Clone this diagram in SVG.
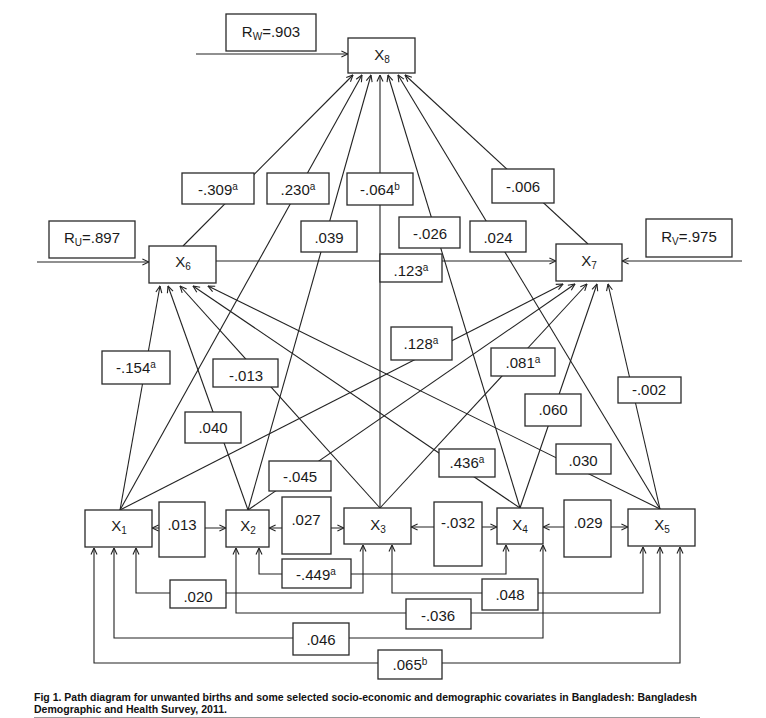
<svg xmlns="http://www.w3.org/2000/svg" width="766" height="718" viewBox="0 0 766 718">
<style>
  .bg{fill:#ffffff}
  .box{fill:#ffffff;stroke:#2a2a2a;stroke-width:1.3}
  .ln{fill:none;stroke:#222222;stroke-width:1.1}
  .t{font-family:"Liberation Sans",Arial,sans-serif;font-size:15px;fill:#1a1a1a;text-anchor:middle}
  .s{font-size:10px}
  .cap{font-family:"Liberation Sans",Arial,sans-serif;font-size:10.5px;font-weight:bold;fill:#111111}
</style>
<defs>
  <marker id="ah" viewBox="0 0 8 8" refX="7.6" refY="4" markerWidth="8" markerHeight="8" markerUnits="userSpaceOnUse" orient="auto-start-reverse">
    <path d="M1,1 L7.6,4 L1,7" fill="none" stroke="#222222" stroke-width="1.1"/>
  </marker>
</defs>
<rect class="bg" x="0" y="0" width="766" height="718"/>

<g id="connectors">
  <!-- residual inputs -->
  <path class="ln" d="M196,54 L348,54" marker-end="url(#ah)"/>
  <path class="ln" d="M37,262 L149,262" marker-end="url(#ah)"/>
  <path class="ln" d="M742,261 L622,261" marker-end="url(#ah)"/>
  <!-- X6 to X7 -->
  <path class="ln" d="M216,261 L556,261" marker-end="url(#ah)"/>
  <!-- to X8 -->
  <path class="ln" d="M183,246 L353,75" marker-end="url(#ah)"/>
  <path class="ln" d="M120,510 L362,75" marker-end="url(#ah)"/>
  <path class="ln" d="M248,510 L371,75" marker-end="url(#ah)"/>
  <path class="ln" d="M380,508 L380,75" marker-end="url(#ah)"/>
  <path class="ln" d="M520,508 L388,75" marker-end="url(#ah)"/>
  <path class="ln" d="M660,509 L398,75" marker-end="url(#ah)"/>
  <path class="ln" d="M588,244 L405,75" marker-end="url(#ah)"/>
  <!-- to X6 -->
  <path class="ln" d="M120,510 L160,286" marker-end="url(#ah)"/>
  <path class="ln" d="M248,510 L168,286" marker-end="url(#ah)"/>
  <path class="ln" d="M380,508 L180,286" marker-end="url(#ah)"/>
  <path class="ln" d="M520,508 L193,286" marker-end="url(#ah)"/>
  <path class="ln" d="M660,509 L208,286" marker-end="url(#ah)"/>
  <!-- to X7 -->
  <path class="ln" d="M120,510 L563,284" marker-end="url(#ah)"/>
  <path class="ln" d="M248,510 L575,284" marker-end="url(#ah)"/>
  <path class="ln" d="M380,508 L587,284" marker-end="url(#ah)"/>
  <path class="ln" d="M520,508 L597,284" marker-end="url(#ah)"/>
  <path class="ln" d="M660,509 L608,284" marker-end="url(#ah)"/>
  <!-- adjacent correlations -->
  <path class="ln" d="M152,528 L226,528" marker-start="url(#ah)" marker-end="url(#ah)"/>
  <path class="ln" d="M269,528 L344,528" marker-start="url(#ah)" marker-end="url(#ah)"/>
  <path class="ln" d="M411,527 L497,527" marker-start="url(#ah)" marker-end="url(#ah)"/>
  <path class="ln" d="M543,527 L628,527" marker-start="url(#ah)" marker-end="url(#ah)"/>
  <!-- lower correlations -->
  <path class="ln" d="M94,548 L94,663 L680,663 L680,547" marker-start="url(#ah)" marker-end="url(#ah)"/>
  <path class="ln" d="M114,548 L114,638 L543,638 L543,545" marker-start="url(#ah)" marker-end="url(#ah)"/>
  <path class="ln" d="M136,548 L136,593 L363,593 L363,545" marker-start="url(#ah)" marker-end="url(#ah)"/>
  <path class="ln" d="M236,548 L236,613 L660,613 L660,547" marker-start="url(#ah)" marker-end="url(#ah)"/>
  <path class="ln" d="M259,548 L259,574 L506,574 L506,545" marker-start="url(#ah)" marker-end="url(#ah)"/>
  <path class="ln" d="M392,545 L392,593 L643,593 L643,547" marker-start="url(#ah)" marker-end="url(#ah)"/>
</g>

<g id="edge-labels">
  <g id="l-309"><rect class="box" x="182" y="173" width="72" height="31"/><text class="t" x="218" y="195">-.309<tspan class="s" dy="-5">a</tspan></text></g>
  <g id="l230"><rect class="box" x="267" y="173" width="62" height="31"/><text class="t" x="298" y="195">.230<tspan class="s" dy="-5">a</tspan></text></g>
  <g id="l-064"><rect class="box" x="347" y="173" width="66" height="32"/><text class="t" x="380" y="195">-.064<tspan class="s" dy="-5">b</tspan></text></g>
  <g id="l-006"><rect class="box" x="492" y="169" width="62" height="34"/><text class="t" x="523" y="192">-.006</text></g>
  <g id="l039"><rect class="box" x="301" y="221" width="56" height="31"/><text class="t" x="329" y="243">.039</text></g>
  <g id="l-026"><rect class="box" x="399" y="217" width="61" height="31"/><text class="t" x="430" y="239">-.026</text></g>
  <g id="l024"><rect class="box" x="470" y="221" width="56" height="31"/><text class="t" x="498" y="243">.024</text></g>
  <g id="l123"><rect class="box" x="380" y="254" width="62" height="28"/><text class="t" x="411" y="276">.123<tspan class="s" dy="-5">a</tspan></text></g>
  <g id="l-154"><rect class="box" x="102" y="351" width="68" height="33"/><text class="t" x="136" y="373">-.154<tspan class="s" dy="-5">a</tspan></text></g>
  <g id="l-013"><rect class="box" x="213" y="359" width="65" height="28"/><text class="t" x="246" y="381">-.013</text></g>
  <g id="l040"><rect class="box" x="185" y="412" width="56" height="31"/><text class="t" x="213" y="433">.040</text></g>
  <g id="l128"><rect class="box" x="391" y="327" width="61" height="33"/><text class="t" x="421" y="349">.128<tspan class="s" dy="-5">a</tspan></text></g>
  <g id="l081"><rect class="box" x="491" y="348" width="64" height="28"/><text class="t" x="523" y="368">.081<tspan class="s" dy="-5">a</tspan></text></g>
  <g id="l060"><rect class="box" x="525" y="394" width="56" height="32"/><text class="t" x="553" y="415">.060</text></g>
  <g id="l-002"><rect class="box" x="618" y="377" width="63" height="26"/><text class="t" x="649" y="395">-.002</text></g>
  <g id="l030"><rect class="box" x="556" y="444" width="55" height="30"/><text class="t" x="583" y="466">.030</text></g>
  <g id="l436"><rect class="box" x="439" y="449" width="56" height="28"/><text class="t" x="467" y="468">.436<tspan class="s" dy="-5">a</tspan></text></g>
  <g id="l-045"><rect class="box" x="269" y="461" width="62" height="30"/><text class="t" x="300" y="482">-.045</text></g>
  <g id="l013"><rect class="box" x="159" y="502" width="46" height="55"/><text class="t" x="182" y="530">.013</text></g>
  <g id="l027"><rect class="box" x="282" y="497" width="49" height="57"/><text class="t" x="306" y="525">.027</text></g>
  <g id="l-032"><rect class="box" x="434" y="502" width="48" height="64"/><text class="t" x="458" y="528">-.032</text></g>
  <g id="l029"><rect class="box" x="564" y="500" width="47" height="57"/><text class="t" x="588" y="528">.029</text></g>
  <g id="l-449"><rect class="box" x="282" y="559" width="69" height="29"/><text class="t" x="316" y="580">-.449<tspan class="s" dy="-5">a</tspan></text></g>
  <g id="l020"><rect class="box" x="170" y="580" width="56" height="28"/><text class="t" x="198" y="602">.020</text></g>
  <g id="l-036"><rect class="box" x="406" y="599" width="65" height="30"/><text class="t" x="438" y="621">-.036</text></g>
  <g id="l048"><rect class="box" x="482" y="579" width="56" height="31"/><text class="t" x="510" y="600">.048</text></g>
  <g id="l046"><rect class="box" x="293" y="623" width="56" height="32"/><text class="t" x="321" y="645">.046</text></g>
  <g id="l065"><rect class="box" x="378" y="650" width="64" height="29"/><text class="t" x="410" y="670">.065<tspan class="s" dy="-5">b</tspan></text></g>
</g>

<g id="Rw"><rect class="box" x="226" y="14" width="90" height="37"/><text class="t" x="271" y="37">R<tspan class="s" dy="3">W</tspan><tspan dy="-3">=.903</tspan></text></g>
<g id="Ru"><rect class="box" x="49" y="221" width="86" height="37"/><text class="t" x="92" y="243">R<tspan class="s" dy="3">U</tspan><tspan dy="-3">=.897</tspan></text></g>
<g id="Rv"><rect class="box" x="646" y="219" width="86" height="38"/><text class="t" x="689" y="242">R<tspan class="s" dy="3">V</tspan><tspan dy="-3">=.975</tspan></text></g>

<g id="X8"><rect class="box" x="348" y="38" width="67" height="35"/><text class="t" x="382" y="60">X<tspan class="s" dy="3">8</tspan></text></g>
<g id="X6"><rect class="box" x="149" y="246" width="67" height="37"/><text class="t" x="183" y="267">X<tspan class="s" dy="3">6</tspan></text></g>
<g id="X7"><rect class="box" x="556" y="244" width="66" height="37"/><text class="t" x="589" y="266">X<tspan class="s" dy="3">7</tspan></text></g>
<g id="X1"><rect class="box" x="85" y="510" width="67" height="37"/><text class="t" x="119" y="531">X<tspan class="s" dy="3">1</tspan></text></g>
<g id="X2"><rect class="box" x="226" y="510" width="43" height="37"/><text class="t" x="248" y="531">X<tspan class="s" dy="3">2</tspan></text></g>
<g id="X3"><rect class="box" x="344" y="508" width="67" height="36"/><text class="t" x="378" y="530">X<tspan class="s" dy="3">3</tspan></text></g>
<g id="X4"><rect class="box" x="497" y="508" width="46" height="36"/><text class="t" x="520" y="530">X<tspan class="s" dy="3">4</tspan></text></g>
<g id="X5"><rect class="box" x="628" y="509" width="67" height="37"/><text class="t" x="662" y="530">X<tspan class="s" dy="3">5</tspan></text></g>

<g id="caption">
  <text class="cap" x="34" y="700.5" textLength="663" lengthAdjust="spacingAndGlyphs">Fig 1. Path diagram for unwanted births and some selected socio-economic and demographic covariates in Bangladesh: Bangladesh</text>
  <text class="cap" x="34" y="712.5" textLength="193" lengthAdjust="spacingAndGlyphs">Demographic and Health Survey, 2011.</text>
  <line x1="34" y1="717.5" x2="700" y2="717.5" stroke="#9a9a9a" stroke-width="1"/>
</g>
</svg>
